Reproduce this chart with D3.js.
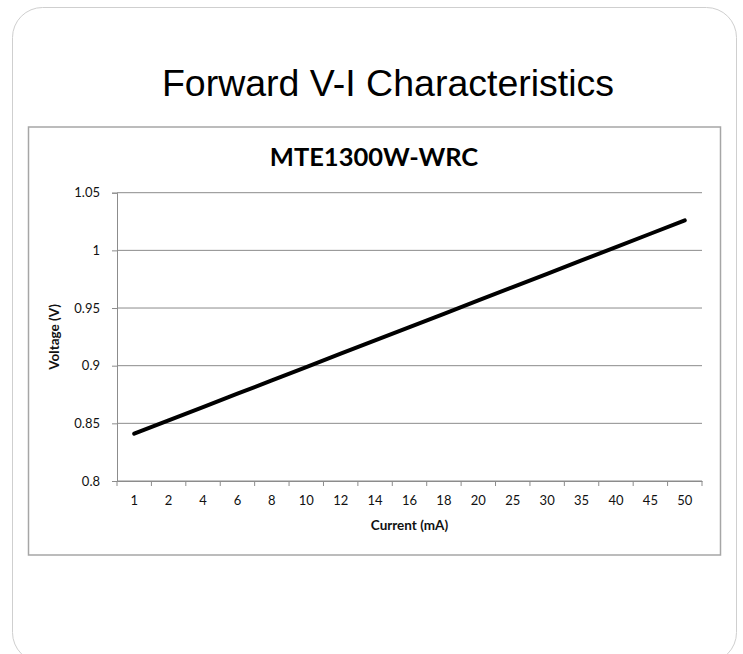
<!DOCTYPE html>
<html><head><meta charset="utf-8">
<script src="https://cdn.jsdelivr.net/npm/d3@7"></script>
<style>html,body{margin:0;padding:0;background:#fff;}svg{display:block;}</style>
</head><body>
<svg id="c" width="743" height="654"></svg>
<script>
const categories = ["1","2","4","6","8","10","12","14","16","18","20","25","30","35","40","45","50"];
const voltage = [0.8410,0.8526,0.8641,0.8757,0.8872,0.8988,0.9104,0.9219,0.9335,0.9450,0.9566,0.9681,0.9797,0.9913,1.0028,1.0144,1.0260];
const yTicks = [0.8,0.85,0.9,0.95,1,1.05];
const yTickLabels = ["0.8","0.85","0.9","0.95","1","1.05"];

const svg = d3.select("#c");
// outer rounded frame
svg.append("rect").attr("x",12.5).attr("y",7.5).attr("width",724).attr("height",655)
  .attr("rx",30).attr("fill","#fff").attr("stroke","#cfcfcf").attr("stroke-width",1);
svg.append("text").attr("x",388).attr("y",96).attr("text-anchor","middle")
  .attr("font-family","Liberation Sans, Arial, sans-serif").attr("font-size",37.5)
  .attr("fill","#000").text("Forward V-I Characteristics");
// inner chart box
svg.append("rect").attr("x",28.5).attr("y",127).attr("width",692).attr("height",428)
  .attr("fill","#fff").attr("stroke","#a6a6a6").attr("stroke-width",1.5);
svg.append("text").attr("x",374).attr("y",166).attr("text-anchor","middle")
  .attr("font-family","Lato, sans-serif").attr("font-weight","bold").attr("font-size",25.5)
  .attr("fill","#000").text("MTE1300W-WRC");

const L=117, R=702, T=192.7, B=481;
const x = d3.scaleBand().domain(categories).range([L,R]);
const y = d3.scaleLinear().domain([0.8,1.05]).range([B,T]);

// gridlines
svg.append("g").selectAll("line").data(yTicks).join("line")
  .attr("x1",L).attr("x2",R).attr("y1",d=>y(d)).attr("y2",d=>y(d))
  .attr("stroke","#8c8c8c").attr("stroke-width",1);

// y axis
const ya = svg.append("g").attr("transform",`translate(${L},0)`)
  .call(d3.axisLeft(y).tickValues(yTicks).tickFormat((d,i)=>yTickLabels[i]).tickSize(5).tickPadding(12));
ya.select(".domain").attr("stroke","#8c8c8c");
ya.selectAll(".tick line").attr("stroke","#8c8c8c");
ya.selectAll("text").attr("font-family","Lato, sans-serif").attr("font-size",13).attr("fill","#111");

// x axis (ticks at band boundaries)
const xa = svg.append("g").attr("transform",`translate(0,${B})`)
  .call(d3.axisBottom(x).tickSize(0).tickPadding(15));
xa.select(".domain").attr("stroke","#8c8c8c");
xa.selectAll("text").attr("font-family","Lato, sans-serif").attr("font-size",13).attr("fill","#111");
const bounds = categories.map(c=>x(c)).concat([x(categories[categories.length-1])+x.bandwidth()]);
xa.append("g").selectAll("line").data(bounds).join("line")
  .attr("x1",d=>d).attr("x2",d=>d).attr("y1",0).attr("y2",5).attr("stroke","#8c8c8c");

// axis titles
svg.append("text").attr("x",(L+R)/2).attr("y",530).attr("text-anchor","middle")
  .attr("font-family","Lato, sans-serif").attr("font-weight","bold").attr("font-size",13.5)
  .attr("fill","#111").text("Current (mA)");
svg.append("text").attr("transform",`translate(59,${(T+B)/2}) rotate(-90)`).attr("text-anchor","middle")
  .attr("font-family","Lato, sans-serif").attr("font-weight","bold").attr("font-size",13.5)
  .attr("fill","#111").text("Voltage (V)");

// line
const line = d3.line().x((d,i)=>x(categories[i])+x.bandwidth()/2).y(d=>y(d));
svg.append("path").datum(voltage).attr("d",line).attr("fill","none")
  .attr("stroke","#000").attr("stroke-width",4).attr("stroke-linecap","round").attr("stroke-linejoin","round");
</script>
</body></html>
